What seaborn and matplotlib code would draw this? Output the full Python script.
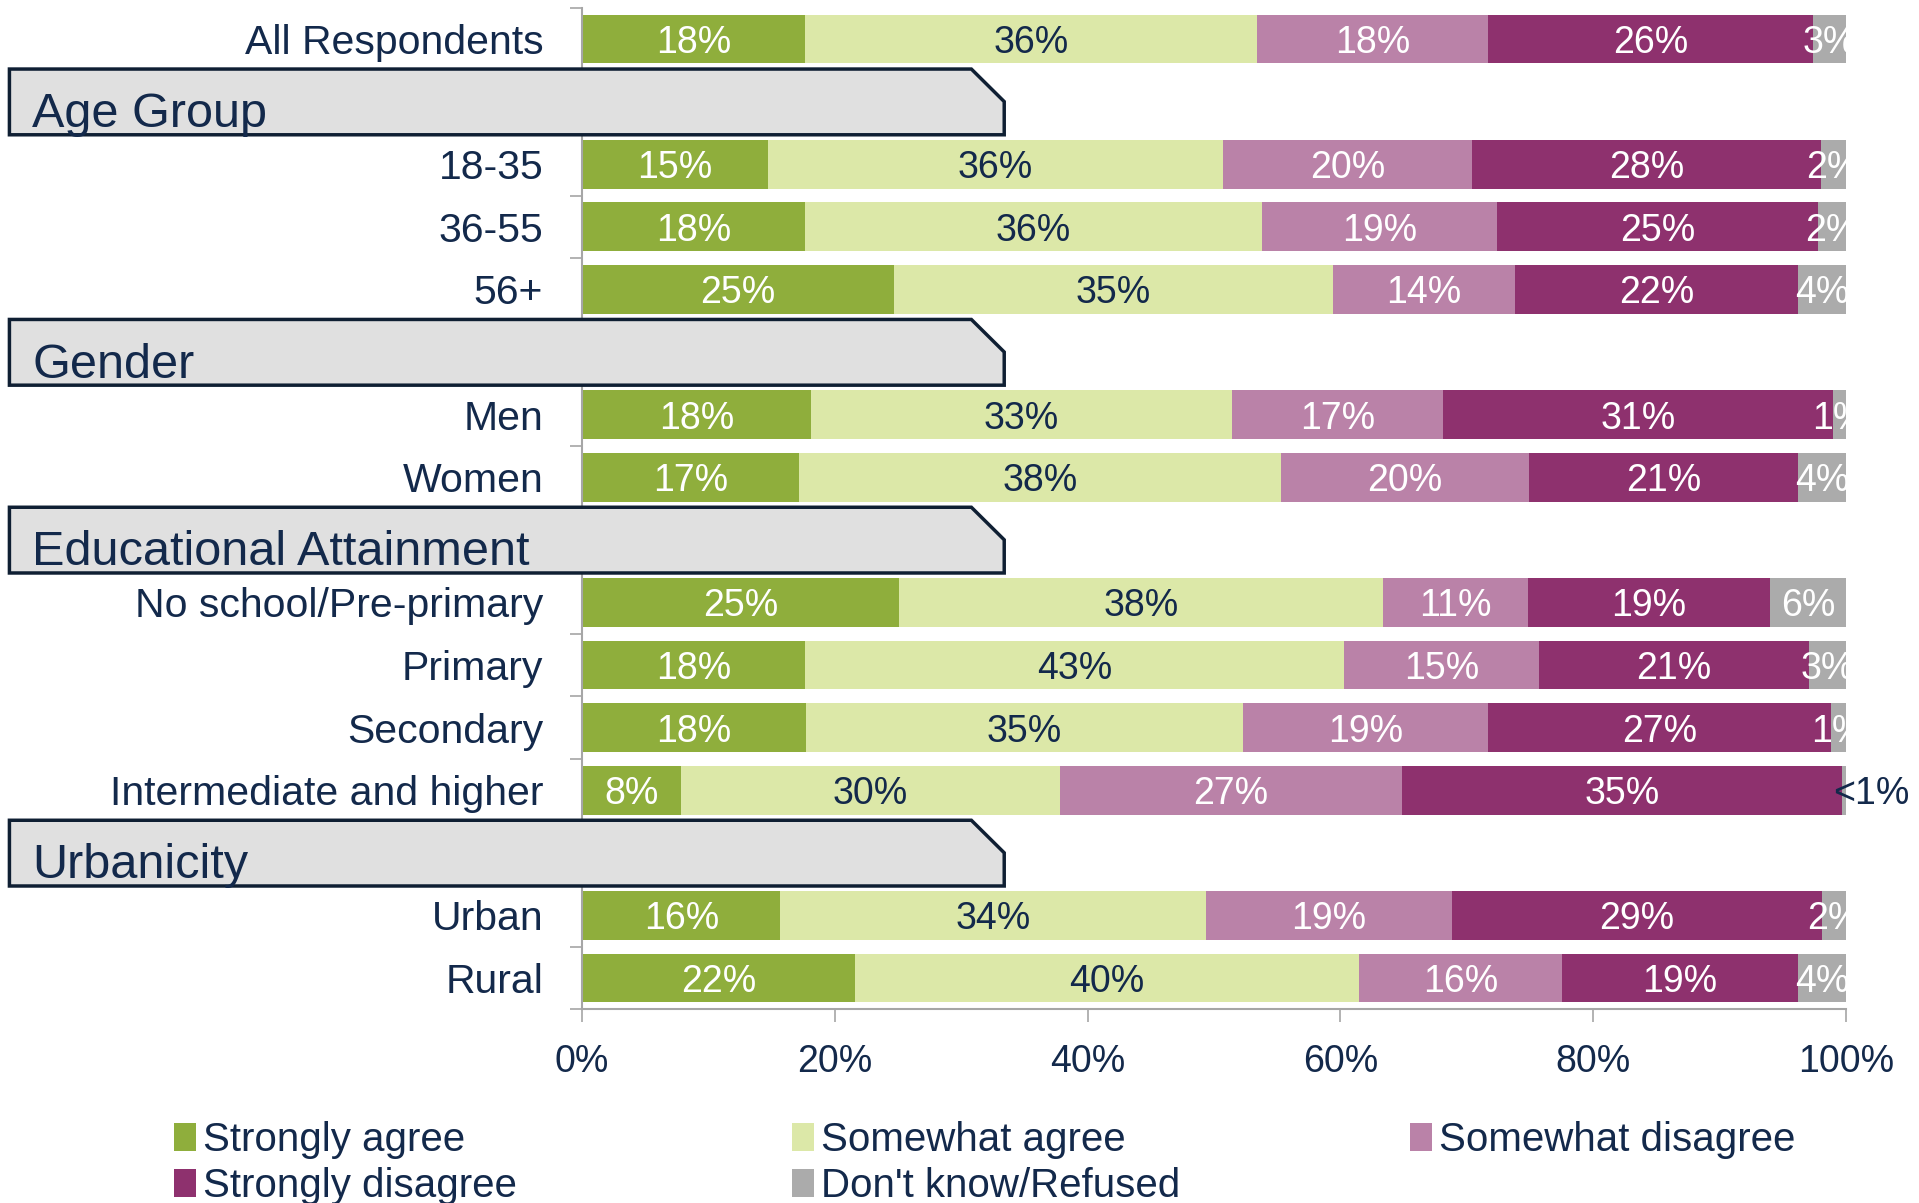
import matplotlib
matplotlib.use("Agg")
import matplotlib.pyplot as plt
from matplotlib.patches import Polygon, Patch
import numpy as np
import pandas as pd
import seaborn as sns

# rows top to bottom, section headers included
row_labels = ["All Respondents", "Age Group", "18-35", "36-55", "56+",
              "Gender", "Men", "Women",
              "Educational Attainment", "No school/Pre-primary", "Primary",
              "Secondary", "Intermediate and higher",
              "Urbanicity", "Urban", "Rural"]
header_rows = ["Age Group", "Gender", "Educational Attainment", "Urbanicity"]
data_rows = ["All Respondents", "18-35", "36-55", "56+", "Men", "Women",
             "No school/Pre-primary", "Primary", "Secondary",
             "Intermediate and higher", "Urban", "Rural"]

responses = ["Strongly agree", "Somewhat agree", "Somewhat disagree",
             "Strongly disagree", "Don't know/Refused"]
strongly_agree = [17.6, 14.7, 17.6, 24.7, 18.1, 17.2, 25.1, 17.6, 17.7, 7.8, 15.7, 21.6]
somewhat_agree = [35.8, 36.0, 36.2, 34.7, 33.3, 38.1, 38.3, 42.7, 34.6, 30.0, 33.7, 39.9]
somewhat_disagree = [18.3, 19.7, 18.6, 14.4, 16.7, 19.6, 11.4, 15.4, 19.4, 27.1, 19.4, 16.0]
strongly_disagree = [25.7, 27.6, 25.4, 22.4, 30.9, 21.3, 19.2, 21.4, 27.1, 34.8, 29.3, 18.7]
dont_know = [2.6, 2.0, 2.2, 3.8, 1.0, 3.8, 6.0, 2.9, 1.2, 0.3, 1.9, 3.8]

x_ticks = [0, 20, 40, 60, 80, 100]
x_tick_labels = ["0%", "20%", "40%", "60%", "80%", "100%"]

navy = "#13294B"
colors = ["#8FAE3C", "#DCE8A8", "#BA82A8", "#8E316E", "#ABABAB"]
text_colors = ["white", navy, "white", "white", "white"]

sns.set_theme(style="white")
plt.rcParams["font.family"] = ["Liberation Sans", "DejaVu Sans"]

pos = {label: i for i, label in enumerate(row_labels)}
df = pd.DataFrame({
    "Strongly agree": strongly_agree,
    "Somewhat agree": somewhat_agree,
    "Somewhat disagree": somewhat_disagree,
    "Strongly disagree": strongly_disagree,
    "Don't know/Refused": dont_know,
})
cum = df[responses].cumsum(axis=1)
cum["y"] = [pos[r] for r in data_rows]

fig = plt.figure(figsize=(19.19, 12.03), dpi=100)
ax = fig.add_axes([0.3033, 0.161, 0.6587, 0.8326])

# stacked bars: draw cumulative totals from the last response back to the first
for resp, col in reversed(list(zip(responses, colors))):
    sns.barplot(data=cum, x=resp, y="y", orient="h", native_scale=True,
                color=col, saturation=1, width=0.78, linewidth=0,
                errorbar=None, ax=ax)

# value labels
for i, row in enumerate(data_rows):
    y = pos[row]
    for j, resp in enumerate(responses):
        v = df.loc[i, resp]
        end = cum.loc[i, resp]
        if v < 0.5:
            ax.text(99.0, y, "<1%", ha="left", va="center_baseline", color=navy,
                    fontsize=27, clip_on=False)
        else:
            ax.text(end - v / 2, y, f"{round(v)}%", ha="center", va="center_baseline",
                    color=text_colors[j], fontsize=27)

ax.set_xlim(0, 100)
ax.set_ylim(15.5, -0.5)
ax.set_xlabel("")
ax.set_ylabel("")

ax.set_yticks([pos[r] for r in data_rows])
ax.set_yticklabels(data_rows, fontsize=29.5, color=navy)
ax.set_yticks(np.arange(-0.5, 16, 1), minor=True)
ax.tick_params(axis="y", which="major", length=0, pad=28)
ax.tick_params(axis="y", which="minor", left=True, length=9, width=1.2,
               color="#A6A6A6")

ax.set_xticks(x_ticks)
ax.set_xticklabels(x_tick_labels, fontsize=27, color=navy)
ax.tick_params(axis="x", bottom=True, length=9, width=1.2, color="#A6A6A6", pad=16)

for side in ["top", "right"]:
    ax.spines[side].set_visible(False)
for side in ["left", "bottom"]:
    ax.spines[side].set_color("#A6A6A6")
    ax.spines[side].set_linewidth(1.5)

# section header boxes with a clipped top-right corner
for h in header_rows:
    y = pos[h]
    pts = [(-45.3, y - 0.52), (30.8, y - 0.52), (33.4, y), (33.4, y + 0.53),
           (-45.3, y + 0.53)]
    ax.add_patch(Polygon(pts, closed=True, facecolor="#E0E0E0", edgecolor="#0F1F33",
                         linewidth=2.5, clip_on=False, zorder=5))
    ax.text(-43.5, y + 0.41, h, ha="left", va="baseline", fontsize=35,
            color=navy, zorder=6, clip_on=False)

# legend laid out in rows of three
handles = [Patch(facecolor=c, edgecolor="none") for c in colors]
legend_cols = [[0, 3], [1, 4], [2]]
legend_x = [0.0907, 0.4127, 0.7348]
for idx, x in zip(legend_cols, legend_x):
    fig.legend([handles[k] for k in idx], [responses[k] for k in idx],
               loc="upper left", bbox_to_anchor=(x, 0.068), frameon=False,
               fontsize=29, labelcolor=navy, handlelength=0.55, handleheight=0.68,
               handletextpad=0.17, labelspacing=0.2, borderpad=0, borderaxespad=0)

fig.savefig("out.png", dpi=100)
